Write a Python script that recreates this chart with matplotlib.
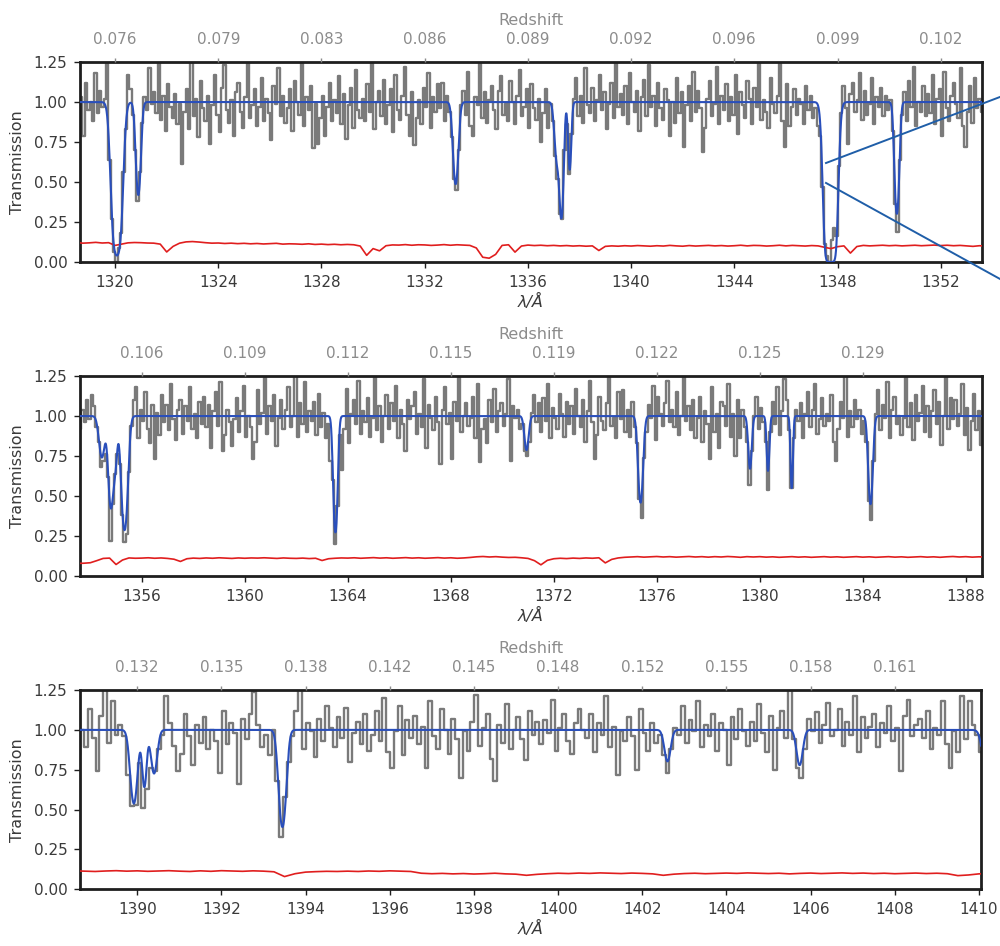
import numpy as np
import matplotlib
matplotlib.use("Agg")
import matplotlib.pyplot as plt
from matplotlib.lines import Line2D

# ---------------------------------------------------------------------------
# Absorption components of the fitted model (centre [A], peak optical depth,
# Doppler-like width [A])
line_center = [1320.07, 1320.90, 1333.20, 1337.12, 1337.30, 1337.62, 1347.73, 1350.30,
               1354.45, 1354.80, 1354.98, 1355.33, 1363.52, 1370.94, 1375.37,
               1379.62, 1380.32, 1381.24, 1384.30,
               1389.92, 1390.17, 1390.40, 1393.45, 1402.60, 1405.74, 1410.25]
line_tau = [3.2, 0.87, 0.72, 0.45, 1.25, 0.55, 8.0, 1.2,
            0.30, 0.85, 0.30, 1.25, 1.3, 0.24, 0.78,
            0.40, 0.42, 0.60, 0.80,
            0.62, 0.44, 0.32, 0.94, 0.22, 0.25, 0.60]
line_b = [0.20, 0.12, 0.13, 0.12, 0.10, 0.08, 0.20, 0.11,
          0.15, 0.13, 0.10, 0.15, 0.10, 0.11, 0.12,
          0.09, 0.07, 0.06, 0.11,
          0.11, 0.07, 0.10, 0.11, 0.10, 0.10, 0.15]

# Observed transmission (x100), 11 pixels per Angstrom; each row starts at X.6 A
flux_start = [1318.6, 1353.6, 1388.6]
flux_a = [
    [86, 103, 79, 112, 95, 100, 88, 118, 93, 107, 97],
    [102, 124, 64, 27, 6, 0, 9, 18, 56, 83, 117],
    [108, 92, 70, 38, 56, 87, 103, 95, 121, 99, 106],
    [93, 126, 89, 104, 82, 111, 97, 90, 105, 86, 99],
    [61, 94, 108, 83, 125, 91, 102, 78, 113, 96, 88],
    [104, 74, 98, 117, 92, 81, 109, 123, 95, 87, 101],
    [79, 106, 112, 94, 84, 103, 127, 90, 98, 108, 85],
    [97, 115, 88, 102, 93, 76, 110, 99, 121, 91, 104],
    [87, 96, 108, 82, 113, 100, 92, 126, 85, 103, 95],
    [110, 71, 99, 74, 90, 104, 79, 97, 112, 88, 101],
    [93, 116, 86, 105, 77, 98, 109, 84, 120, 95, 90],
    [102, 88, 111, 94, 125, 83, 100, 107, 91, 114, 86],
    [98, 108, 81, 117, 95, 89, 104, 122, 92, 79, 106],
    [73, 90, 101, 86, 109, 97, 118, 84, 103, 94, 111],
    [96, 112, 88, 104, 94, 78, 52, 45, 70, 98, 107],
    [92, 119, 85, 79, 103, 98, 124, 90, 106, 87, 101],
    [110, 95, 83, 107, 116, 92, 99, 88, 113, 100, 86],
    [104, 120, 91, 97, 108, 84, 111, 96, 89, 102, 75],
    [93, 108, 84, 99, 88, 66, 52, 30, 27, 70, 86],
    [55, 80, 102, 115, 91, 104, 87, 121, 98, 93, 109],
    [88, 101, 117, 95, 106, 83, 99, 112, 90, 125, 97],
    [105, 92, 110, 86, 118, 100, 94, 107, 82, 103, 114],
    [91, 123, 97, 104, 85, 112, 96, 89, 108, 101, 79],
    [100, 87, 115, 93, 106, 72, 98, 110, 88, 119, 94],
    [107, 96, 69, 84, 102, 113, 91, 99, 122, 86, 104],
    [95, 111, 88, 103, 92, 117, 80, 106, 98, 90, 113],
    [102, 86, 109, 97, 125, 89, 101, 94, 84, 115, 99],
    [93, 104, 124, 88, 72, 111, 85, 97, 108, 92, 102],
    [99, 86, 110, 95, 104, 90, 96, 85, 79, 47, 11],
    [4, 0, 14, 21, 16, 60, 93, 110, 96, 74, 105],
    [112, 94, 101, 118, 89, 107, 92, 99, 115, 86, 103],
    [97, 109, 91, 104, 95, 101, 82, 36, 19, 64, 92],
    [106, 88, 113, 97, 122, 85, 100, 94, 110, 91, 105],
    [93, 117, 86, 102, 108, 79, 119, 96, 88, 104, 112],
    [99, 90, 121, 85, 72, 94, 110, 87, 115, 96, 102],
    [94, 108],
]
flux_b = [
    [92, 104, 96, 110, 98, 113, 106, 93, 84, 68, 72],
    [76, 62, 22, 45, 64, 76, 70, 38, 21, 26, 65],
    [94, 110, 118, 86, 104, 97, 115, 92, 83, 107, 73],
    [102, 88, 113, 96, 107, 91, 120, 98, 85, 104, 110],
    [89, 106, 97, 118, 92, 101, 86, 109, 95, 112, 93],
    [107, 80, 103, 115, 94, 121, 78, 88, 104, 96, 81],
    [98, 111, 90, 103, 119, 87, 100, 93, 73, 84, 116],
    [95, 102, 124, 89, 106, 97, 113, 81, 99, 110, 92],
    [104, 118, 93, 100, 126, 87, 108, 95, 121, 90, 103],
    [97, 109, 88, 114, 93, 102, 86, 95, 72, 60, 20],
    [44, 88, 66, 92, 117, 83, 101, 110, 95, 122, 89],
    [103, 96, 111, 87, 99, 125, 91, 106, 84, 100, 113],
    [92, 108, 97, 119, 86, 104, 95, 78, 110, 98, 106],
    [115, 89, 101, 93, 123, 80, 107, 99, 91, 112, 96],
    [70, 104, 118, 95, 102, 73, 109, 97, 126, 90, 100],
    [108, 94, 99, 112, 86, 120, 71, 92, 98, 83, 110],
    [96, 117, 90, 103, 108, 94, 101, 123, 72, 106, 99],
    [104, 92, 95, 78, 75, 84, 102, 113, 96, 108, 90],
    [111, 97, 120, 86, 105, 99, 92, 114, 101, 87, 109],
    [95, 106, 89, 117, 100, 93, 110, 84, 103, 122, 96],
    [73, 88, 112, 97, 91, 108, 125, 94, 99, 86, 115],
    [98, 116, 90, 104, 87, 109, 93, 83, 48, 36, 74],
    [90, 107, 99, 119, 85, 112, 101, 94, 108, 122, 96],
    [104, 93, 115, 88, 100, 126, 97, 106, 91, 110, 86],
    [99, 112, 84, 103, 95, 73, 118, 90, 101, 80, 109],
    [106, 94, 120, 87, 101, 75, 110, 86, 104, 93, 84],
    [57, 78, 100, 112, 92, 105, 96, 84, 54, 90, 109],
    [95, 118, 88, 103, 123, 110, 91, 55, 86, 104, 97],
    [108, 86, 101, 115, 93, 104, 120, 89, 98, 111, 94],
    [101, 97, 113, 84, 72, 92, 109, 99, 125, 87, 103],
    [93, 110, 98, 104, 89, 97, 84, 47, 35, 72, 101],
    [116, 91, 107, 99, 121, 86, 104, 112, 95, 100, 88],
    [99, 124, 93, 108, 85, 113, 97, 102, 119, 90, 106],
    [87, 103, 116, 95, 109, 82, 100, 126, 92, 111, 98],
    [110, 94, 101, 120, 88, 105, 79, 97, 114, 91, 103],
    [82, 99],
]
flux_c = [
    [84, 100, 89, 113, 95, 74, 109, 126, 92, 118, 97],
    [103, 96, 72, 52, 53, 79, 51, 63, 76, 74, 88],
    [97, 121, 104, 90, 74, 85, 110, 96, 78, 103, 92],
    [108, 88, 100, 93, 73, 112, 91, 104, 98, 66, 107],
    [94, 110, 124, 103, 89, 97, 84, 100, 68, 33, 58],
    [80, 96, 112, 127, 88, 104, 99, 83, 107, 93, 115],
    [101, 89, 108, 95, 114, 80, 98, 105, 91, 110, 87],
    [97, 112, 93, 120, 86, 76, 99, 115, 84, 106, 95],
    [109, 91, 102, 76, 118, 96, 88, 113, 100, 85, 107],
    [94, 70, 99, 87, 105, 122, 90, 101, 110, 82, 68],
    [103, 92, 116, 88, 100, 108, 94, 81, 112, 97, 105],
    [91, 106, 98, 119, 87, 101, 110, 93, 85, 104, 113],
    [100, 95, 110, 86, 104, 97, 121, 89, 102, 72, 99],
    [93, 108, 96, 75, 113, 98, 87, 104, 92, 97, 84],
    [73, 88, 101, 97, 115, 92, 106, 99, 118, 89, 103],
    [96, 110, 87, 104, 100, 78, 108, 94, 113, 99, 90],
    [105, 93, 116, 98, 86, 109, 75, 101, 112, 95, 125],
    [94, 76, 70, 88, 107, 99, 111, 92, 103, 117, 96],
    [100, 113, 90, 105, 97, 121, 86, 108, 95, 102, 110],
    [89, 104, 98, 115, 93, 101, 74, 109, 119, 96, 103],
    [107, 95, 112, 88, 101, 97, 118, 91, 76, 99, 86],
    [121, 94, 118, 103, 97, 86, 80, 74, 70, 72, 78],
]

# Flux uncertainty (x1000), 4 samples per Angstrom; each row starts at an integer A
err_start = [1318.0, 1353.0, 1388.0]
err_a = [
    [121, 119, 122, 118], [120, 123, 119, 121], [104, 112, 120, 122], [121, 119, 118, 112],
    [63, 98, 118, 126], [128, 125, 121, 118], [119, 116, 118, 115], [117, 114, 116, 113],
    [115, 117, 112, 114], [113, 111, 114, 110], [112, 109, 111, 108], [110, 108, 100, 42],
    [84, 70, 102, 107], [106, 109, 105, 108], [107, 104, 106, 109], [105, 108, 106, 104],
    [88, 30, 24, 48], [104, 108, 62, 100], [106, 103, 105, 102], [104, 101, 103, 100],
    [102, 99, 101, 72], [98, 101, 99, 102], [100, 103, 101, 99], [102, 100, 104, 101],
    [99, 103, 100, 102], [104, 101, 103, 100], [102, 105, 101, 104], [103, 100, 102, 105],
    [101, 104, 102, 100], [103, 101, 92, 84], [96, 101, 56, 97], [104, 101, 103, 105],
    [102, 104, 101, 103], [105, 102, 104, 106], [103, 105, 102, 104], [101, 98, 102, 100],
]
err_b = [
    [80, 81, 79, 80], [83, 96, 110, 112], [72, 100, 113, 111], [112, 114, 111, 113],
    [110, 105, 91, 108], [112, 110, 113, 111], [114, 112, 110, 113], [111, 113, 112, 114],
    [112, 110, 113, 111], [110, 112, 109, 111], [97, 108, 111, 113], [112, 114, 111, 113],
    [115, 112, 114, 111], [113, 115, 112, 114], [111, 113, 115, 112], [114, 111, 113, 116],
    [120, 122, 119, 121], [118, 116, 117, 114], [110, 96, 70, 98], [108, 111, 109, 112],
    [110, 113, 111, 114], [82, 104, 113, 117], [119, 121, 118, 120], [122, 119, 121, 118],
    [120, 122, 119, 121], [118, 121, 119, 122], [120, 117, 121, 119], [121, 118, 120, 117],
    [119, 121, 118, 120], [117, 119, 121, 118], [120, 117, 119, 121], [118, 120, 117, 119],
    [121, 118, 120, 117], [119, 121, 118, 120], [117, 120, 122, 119], [121, 118, 120, 119],
]
err_c = [
    [115, 113, 116, 114], [112, 115, 117, 114], [116, 113, 115, 117], [114, 112, 116, 113],
    [117, 115, 113, 116], [114, 110, 80, 98], [108, 111, 113, 112], [114, 112, 115, 113],
    [116, 114, 112, 101], [98, 100, 97, 99], [96, 98, 101, 97], [95, 88, 94, 98],
    [101, 99, 102, 100], [103, 101, 99, 102], [100, 97, 88, 95], [99, 101, 98, 100],
    [102, 100, 103, 101], [99, 101, 97, 100], [102, 99, 101, 103], [100, 102, 99, 101],
    [98, 100, 102, 99], [101, 98, 86, 90], [97, 99, 98, 100],
]

# Axis ranges, tick positions and redshift labels of the three panels
panel_xlim = [(1318.64, 1353.6), (1353.6, 1388.63), (1388.64, 1410.05)]
panel_xticks = [list(range(1320, 1353, 4)), list(range(1356, 1389, 4)), list(range(1390, 1411, 2))]
panel_zlabels = [
    ["0.076", "0.079", "0.083", "0.086", "0.089", "0.092", "0.096", "0.099", "0.102"],
    ["0.106", "0.109", "0.112", "0.115", "0.119", "0.122", "0.125", "0.129"],
    ["0.132", "0.135", "0.138", "0.142", "0.145", "0.148", "0.152", "0.155", "0.158", "0.161"],
]
yticks = [0.0, 0.25, 0.5, 0.75, 1.0, 1.25]

GRAY = "#7a7a7a"
BLUE = "#2a4fbb"
RED = "#e01e1e"
CALLOUT = "#1f5ea8"
DARK = "#1e1e1e"
TEXT = "#3a3a3a"
LIGHT = "#8c8c8c"


def model(lam):
    tau = np.zeros_like(lam)
    for c, t, b in zip(line_center, line_tau, line_b):
        tau += t * np.exp(-((lam - c) / b) ** 2)
    return np.exp(-tau)


fig = plt.figure(figsize=(10, 9.46), dpi=100)
rects = [[0.080, 0.7230, 0.902, 0.2114],
         [0.080, 0.3911, 0.902, 0.2114],
         [0.080, 0.0599, 0.901, 0.2107]]

flux_sets = [flux_a, flux_b, flux_c]
err_sets = [err_a, err_b, err_c]

for k in range(3):
    ax = fig.add_axes(rects[k])
    flux = np.concatenate([np.asarray(r, float) for r in flux_sets[k]]) / 100.0
    lam = flux_start[k] + np.arange(flux.size) / 11.0
    err = np.concatenate([np.asarray(r, float) for r in err_sets[k]]) / 1000.0
    lam_err = err_start[k] + np.arange(err.size) * 0.25
    x0, x1 = panel_xlim[k]
    lam_fine = np.linspace(x0 - 0.5, x1 + 0.5, 4000)

    ax.plot(lam, flux, drawstyle="steps-mid", color=GRAY, lw=1.7, zorder=2)
    ax.plot(lam_err, err, color=RED, lw=1.2, zorder=3)
    ax.plot(lam_fine, model(lam_fine), color=BLUE, lw=1.5, zorder=4)

    ax.set_xlim(x0, x1)
    ax.set_ylim(0, 1.25)
    ax.set_xticks(panel_xticks[k])
    ax.set_yticks(yticks)
    ax.set_yticklabels([f"{v:.2f}" for v in yticks])
    ax.tick_params(direction="out", length=4, width=1.0, colors=DARK,
                   labelsize=11, labelcolor=TEXT, pad=5)
    for s in ax.spines.values():
        s.set_linewidth(2.0)
        s.set_color(DARK)
    ax.set_ylabel("Transmission", fontsize=11.5, color=TEXT, labelpad=6)
    ax.set_xlabel("λ/Å", fontsize=11.5, color=TEXT, fontstyle="italic", labelpad=3)

    top = ax.twiny()
    top.set_xlim(x0, x1)
    zl = panel_zlabels[k]
    top.set_xticks(panel_xticks[k][:len(zl)])
    top.set_xticklabels(zl)
    top.tick_params(direction="out", length=3, width=1.0, colors=LIGHT,
                    labelsize=11, labelcolor=LIGHT, pad=8)
    for s in top.spines.values():
        s.set_visible(False)
    top.set_xlabel("Redshift", fontsize=11.5, color=LIGHT, labelpad=5)

# Callout lines leading away from the saturated absorber
fig.add_artist(Line2D([0.826, 1.0], [0.8277, 0.8975], transform=fig.transFigure,
                      color=CALLOUT, lw=1.4, clip_on=False))
fig.add_artist(Line2D([0.826, 1.0], [0.8066, 0.7051], transform=fig.transFigure,
                      color=CALLOUT, lw=1.4, clip_on=False))

fig.savefig("out.png", dpi=100)
